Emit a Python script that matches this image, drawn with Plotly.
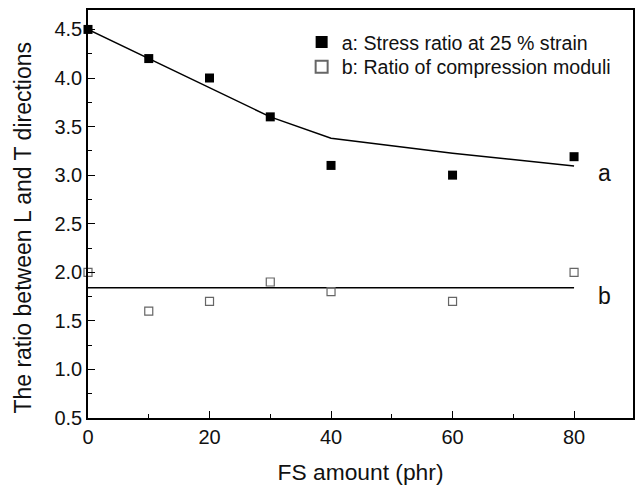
import plotly.graph_objects as go

# FS loading (phr)
fs_amount = [0, 10, 20, 30, 40, 60, 80]

# a: stress ratio (L/T) at 25 % strain
stress_ratio = [4.5, 4.2, 4.0, 3.6, 3.1, 3.0, 3.19]
stress_fit = [4.5, 4.2, 3.9, 3.6, 3.38, 3.225, 3.095]

# b: ratio of compression moduli (L/T)
moduli_ratio = [2.0, 1.6, 1.7, 1.9, 1.8, 1.7, 2.0]
moduli_fit = [1.84] * len(fs_amount)

FONT = "Liberation Sans, Arial, sans-serif"

fig = go.Figure()

fig.add_trace(go.Scatter(
    x=fs_amount, y=stress_fit, mode="lines",
    line=dict(color="black", width=1.5), showlegend=False, hoverinfo="skip"))
fig.add_trace(go.Scatter(
    x=fs_amount, y=moduli_fit, mode="lines",
    line=dict(color="black", width=1.5), showlegend=False, hoverinfo="skip"))

fig.add_trace(go.Scatter(
    x=fs_amount, y=stress_ratio, mode="markers",
    name="a: Stress ratio at 25 % strain", legend="legend",
    marker=dict(symbol="square", size=9, color="black",
                line=dict(color="black", width=0)),
    cliponaxis=False))
fig.add_trace(go.Scatter(
    x=fs_amount, y=moduli_ratio, mode="markers",
    name="b: Ratio of compression moduli", legend="legend2",
    marker=dict(symbol="square-open", size=8, color="#666666",
                line=dict(color="#666666", width=1.2)),
    cliponaxis=False))

# curve labels at the right end of each line
fig.add_annotation(x=85.0, y=stress_fit[-1] - 0.07, text="a", showarrow=False,
                   font=dict(family=FONT, size=23, color="#111"))
fig.add_annotation(x=85.0, y=moduli_fit[-1] - 0.08, text="b", showarrow=False,
                   font=dict(family=FONT, size=23, color="#111"))

# y-axis title, set slightly below the plot's vertical centre
fig.add_annotation(xref="paper", yref="paper", x=-0.119, y=0.467,
                   xanchor="center", yanchor="middle", textangle=-90,
                   text="The ratio between L and T directions", showarrow=False,
                   font=dict(family=FONT, size=23, color="#111"))

axis_common = dict(
    showline=True, linecolor="black", linewidth=1.5, mirror=True,
    ticks="inside", tickcolor="black", tickwidth=1.2, ticklen=7,
    showgrid=False, zeroline=False,
    tickfont=dict(family=FONT, size=20, color="#111"),
)

fig.update_xaxes(
    range=[0, 89.7], tick0=0, dtick=20,
    minor=dict(ticks="inside", dtick=10, ticklen=4, tickcolor="black", tickwidth=1.2),
    title=dict(text="FS amount (phr)", font=dict(family=FONT, size=22.8, color="#111"), standoff=17),
    **axis_common)
fig.update_yaxes(
    range=[0.5, 4.7], tick0=0.5, dtick=0.5, tickformat=".1f",
    minor=dict(ticks="inside", dtick=0.25, ticklen=4, tickcolor="black", tickwidth=1.2),
    **axis_common)

legend_style = dict(xanchor="left", yanchor="top",
                    bgcolor="rgba(0,0,0,0)", borderwidth=0,
                    font=dict(family=FONT, size=19.6, color="#111"),
                    itemsizing="constant")

fig.update_layout(
    width=637, height=485,
    margin=dict(l=88, r=2, t=10, b=67),
    paper_bgcolor="white", plot_bgcolor="white",
    font=dict(family=FONT, color="#111"),
    legend=dict(x=0.392, y=0.969, **legend_style),
    legend2=dict(x=0.392, y=0.908, **legend_style),
)

fig.write_html("out.html")
